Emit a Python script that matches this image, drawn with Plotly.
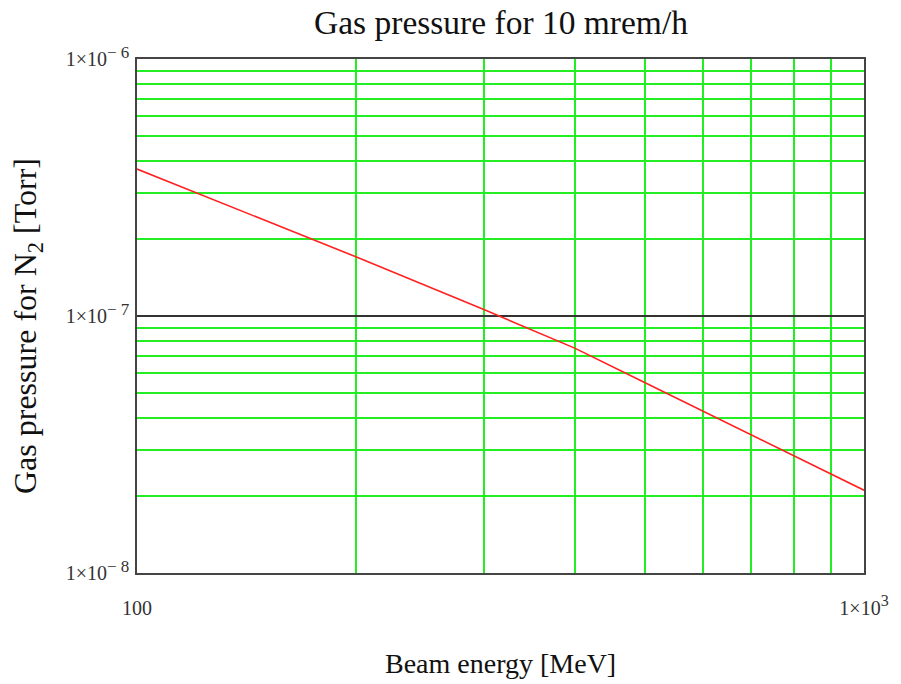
import plotly.graph_objects as go

# Data
beam_energy_mev = [100, 200, 300, 400, 500, 1000]
pressure_torr = [3.73e-7, 1.70e-7, 1.06e-7, 7.5e-8, 5.5e-8, 2.1e-8]

x_tickvals = [100, 1000]
x_ticktext = ["100", "1×10<sup><span style='font-size:16px'>3</span></sup>"]
x_minorvals = [200, 300, 400, 500, 600, 700, 800, 900]

y_tickvals = [1e-8, 1e-7, 1e-6]
y_ticktext = ["1×10<sup><span style='font-size:17px'>− 8</span></sup>",
              "1×10<sup><span style='font-size:17px'>− 7</span></sup>",
              "1×10<sup><span style='font-size:17px'>− 6</span></sup>"]
y_minorvals = [m * 10.0 ** e for e in (-8, -7) for m in range(2, 10)]

title_text = "Gas pressure for 10 mrem/h"
x_title = "Beam energy [MeV]"
y_title = "Gas pressure for N<sub>2</sub> [Torr]"

SERIF = "Liberation Serif, Times New Roman, serif"
GREEN = "#22ee22"

fig = go.Figure()
fig.add_trace(go.Scatter(
    x=beam_energy_mev, y=pressure_torr, mode="lines",
    line=dict(color="#ff2020", width=1.6), showlegend=False,
))

fig.update_layout(
    width=901, height=684,
    margin=dict(l=137, r=34, t=59, b=111),
    paper_bgcolor="white", plot_bgcolor="white",
    font=dict(family=SERIF, color="#333333"),
    xaxis=dict(
        type="log", range=[2, 3],
        tickmode="array", tickvals=x_tickvals, ticktext=x_ticktext,
        showgrid=True, gridcolor="#444444", gridwidth=1.5,
        minor=dict(tickmode="array", tickvals=x_minorvals, showgrid=True,
                   gridcolor=GREEN, gridwidth=1.6, ticks=""),
        showline=True, linecolor="#444444", linewidth=1.5, mirror=True,
        ticks="", tickfont=dict(size=20, family=SERIF, color="#333333"),
        ticklabelstandoff=16, zeroline=False,
    ),
    yaxis=dict(
        type="log", range=[-8, -6],
        tickmode="array", tickvals=y_tickvals, ticktext=y_ticktext,
        showgrid=True, gridcolor="#333333", gridwidth=2,
        minor=dict(tickmode="array", tickvals=y_minorvals, showgrid=True,
                   gridcolor=GREEN, gridwidth=1.6, ticks=""),
        showline=True, linecolor="#444444", linewidth=1.5, mirror=True,
        ticks="", tickfont=dict(size=20, family=SERIF, color="#333333"),
        ticklabelstandoff=2, zeroline=False,
    ),
    annotations=[
        dict(text=title_text, xref="paper", yref="paper", x=0.5, y=1,
             yshift=37, showarrow=False, xanchor="center", yanchor="middle",
             font=dict(size=33.5, family=SERIF, color="#111111")),
        dict(text=x_title, xref="paper", yref="paper", x=0.5, y=0,
             yshift=-90, showarrow=False, xanchor="center", yanchor="middle",
             font=dict(size=28, family=SERIF, color="#111111")),
        dict(text=y_title, xref="paper", yref="paper", x=0, y=0.5,
             xshift=-110, yshift=-10, showarrow=False, xanchor="center",
             yanchor="middle", textangle=-90,
             font=dict(size=32, family=SERIF, color="#111111")),
    ],
)

fig.write_html("out.html", config={"displayModeBar": False},
               post_script="document.body.style.margin='0px';")
